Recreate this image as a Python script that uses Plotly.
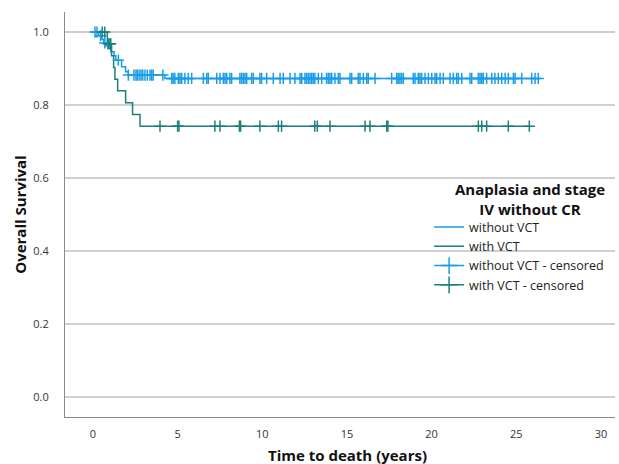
import plotly.graph_objects as go
import numpy as np

# Kaplan-Meier step data (time in years, survival)
without_vct_times = [0.0, 0.35, 0.5, 0.62, 0.75, 0.9, 1.05, 1.25, 1.35, 1.69, 1.93, 2.09, 4.25, 26.4]
without_vct_surv = [1.0, 0.99, 0.98, 0.97, 0.962, 0.955, 0.946, 0.935, 0.923, 0.905, 0.891, 0.882, 0.873, 0.873]

with_vct_times = [0.0, 0.85, 1.1, 1.22, 1.3, 1.46, 1.93, 2.34, 2.78, 25.8]
with_vct_surv = [1.0, 0.968, 0.935, 0.903, 0.871, 0.839, 0.806, 0.774, 0.742, 0.742]

without_vct_censored = [0.12, 0.24, 0.45, 0.7, 1.5, 2.09, 2.42, 2.54, 2.62, 2.73, 2.84, 2.94, 3.07, 3.21,
                        3.37, 3.47, 3.56, 4.13, 4.65, 4.74, 4.84, 5.04, 5.14, 5.24, 5.43, 5.63, 5.83,
                        6.52, 6.72, 6.81, 7.31, 7.5, 7.7, 7.8, 7.9, 8.09, 8.19, 8.68, 8.78, 8.88, 8.98,
                        9.08, 9.37, 9.47, 9.86, 9.96, 10.26, 10.65, 11.05, 11.24, 11.64, 11.93, 12.23,
                        12.33, 12.52, 12.62, 12.72, 12.82, 12.92, 13.01, 13.11, 13.31, 13.51, 13.8, 13.9,
                        14.0, 14.1, 14.29, 14.49, 14.59, 15.18, 15.28, 15.67, 15.77, 15.97, 16.17, 16.26,
                        16.66, 17.64, 17.94, 18.03, 18.13, 18.23, 18.33, 18.92, 19.02, 19.21, 19.31,
                        19.41, 19.61, 19.81, 20.01, 20.2, 20.3, 20.5, 20.69, 21.09, 21.28, 21.48, 21.58,
                        21.78, 22.27, 22.37, 22.76, 22.86, 22.96, 23.05, 23.25, 23.55, 23.74, 23.94,
                        24.14, 24.34, 24.53, 24.83, 24.93, 25.32, 25.91, 26.11, 26.3]
with_vct_censored = [0.55, 0.7, 0.9, 1.0, 1.05, 3.96, 5.0, 5.08, 7.2, 7.5, 8.65, 8.72, 9.86, 10.95,
                     11.14, 13.1, 13.25, 14.0, 16.07, 16.36, 17.35, 17.42, 22.76, 22.96, 23.25,
                     24.53, 25.77]

x_ticks = [0, 5, 10, 15, 20, 25, 30]
y_ticks = [0.0, 0.2, 0.4, 0.6, 0.8, 1.0]

BLUE = "#1A9DE6"
TEAL = "#1B7F7C"


def step_value(times, surv, t):
    idx = np.searchsorted(np.array(times), t, side="right") - 1
    return [surv[i] for i in idx]


fig = go.Figure()
fig.add_trace(go.Scatter(x=without_vct_times, y=without_vct_surv, mode="lines", line_shape="hv",
                         line=dict(color=BLUE, width=1.5), name="without VCT"))
fig.add_trace(go.Scatter(x=with_vct_times, y=with_vct_surv, mode="lines", line_shape="hv",
                         line=dict(color=TEAL, width=1.5), name="with VCT"))
fig.add_trace(go.Scatter(x=without_vct_censored,
                         y=step_value(without_vct_times, without_vct_surv, without_vct_censored),
                         mode="markers", showlegend=False,
                         marker=dict(symbol="cross-thin", size=8, line=dict(color=BLUE, width=1.5))))
fig.add_trace(go.Scatter(x=with_vct_censored,
                         y=step_value(with_vct_times, with_vct_surv, with_vct_censored),
                         mode="markers", showlegend=False,
                         marker=dict(symbol="cross-thin", size=8, line=dict(color=TEAL, width=1.5))))
# legend entries for censored marks
fig.add_trace(go.Scatter(x=[None], y=[None], mode="lines+markers", name="without VCT - censored",
                         line=dict(color=BLUE, width=1.5),
                         marker=dict(symbol="cross-thin", size=12, line=dict(color=BLUE, width=1.5))))
fig.add_trace(go.Scatter(x=[None], y=[None], mode="lines+markers", name="with VCT - censored",
                         line=dict(color=TEAL, width=1.5),
                         marker=dict(symbol="cross-thin", size=12, line=dict(color=TEAL, width=1.5))))

fig.update_layout(
    width=619, height=464,
    margin=dict(l=65, r=4, t=12, b=47),
    paper_bgcolor="white", plot_bgcolor="white",
    font=dict(family="Open Sans", color="#222"),
    legend=dict(
        x=0.662, y=0.505, xanchor="left", yanchor="top",
        font=dict(size=12.5, color="#222"),
        itemwidth=30, tracegroupgap=0, bgcolor="rgba(0,0,0,0)",
    ),
    xaxis=dict(
        range=[-1.65, 30.83], tickvals=x_ticks, ticktext=[str(v) for v in x_ticks],
        showgrid=False, zeroline=False, showline=True, linecolor="#888", linewidth=1,
        ticks="", ticklabelstandoff=7, tickfont=dict(size=11, color="#333"), automargin=False,
    ),
    yaxis=dict(
        range=[-0.055, 1.055], tickvals=y_ticks, ticktext=[f"{v:.1f}" for v in y_ticks],
        showgrid=True, gridcolor="#cfcfcf", gridwidth=1.5, zeroline=False,
        showline=True, linecolor="#888", linewidth=1,
        ticks="", ticklabelstandoff=13, tickfont=dict(size=11, color="#333"), automargin=False,
    ),
    annotations=[
        dict(text="<b>Overall Survival</b>", xref="paper", yref="paper", x=-0.082, y=0.499,
             textangle=-90, showarrow=False, font=dict(size=15, color="#111"),
             xanchor="center", yanchor="middle"),
        dict(text="<b>Time to death (years)</b>", xref="paper", yref="paper", x=0.513, y=-0.094,
             showarrow=False, font=dict(size=15, color="#111"), xanchor="center", yanchor="middle"),
        dict(text="<b>Anaplasia and stage<br>IV without CR</b>", xref="paper", yref="paper",
             x=0.845, y=0.538, showarrow=False, align="center",
             font=dict(size=15, color="#111"), xanchor="center", yanchor="middle"),
    ],
)

fig.write_html("out.html", config={"displayModeBar": False},
               post_script="document.body.style.margin='0';document.body.style.overflow='hidden';")
